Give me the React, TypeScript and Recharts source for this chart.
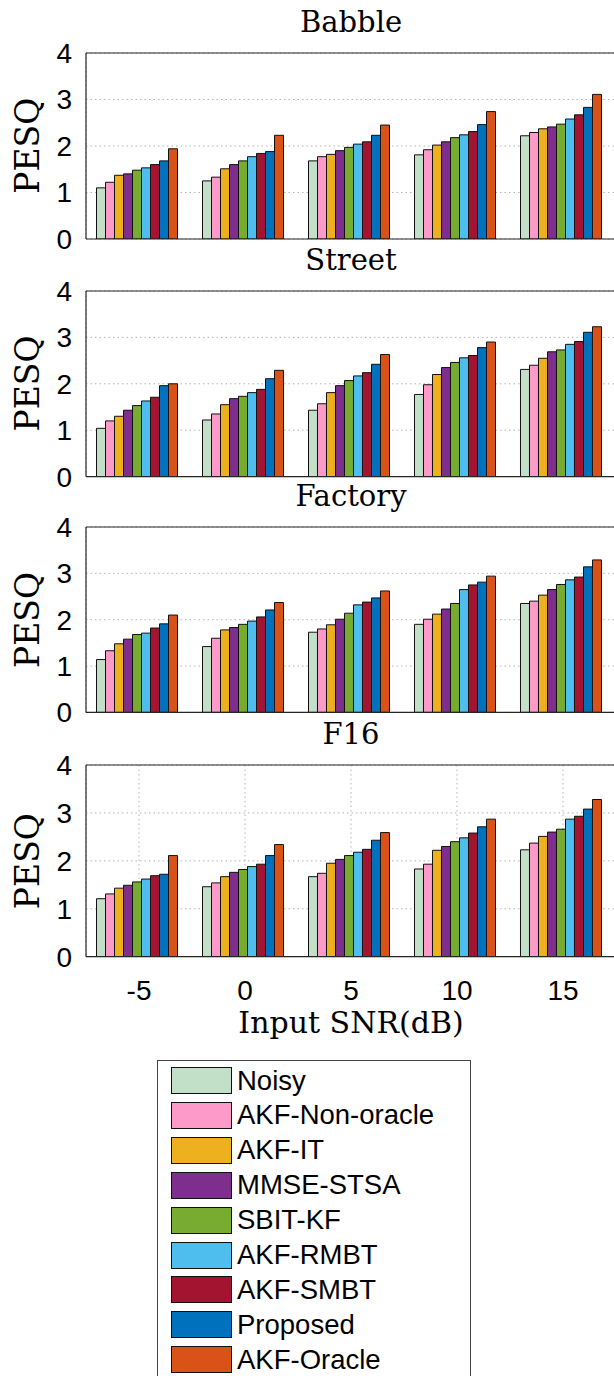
import React from 'react';
import { BarChart, Bar, XAxis, YAxis, CartesianGrid, ReferenceLine } from 'recharts';

const snrLabels = ['-5', '0', '5', '10', '15'];
const methods = ['Noisy', 'AKF-Non-oracle', 'AKF-IT', 'MMSE-STSA', 'SBIT-KF', 'AKF-RMBT', 'AKF-SMBT', 'Proposed', 'AKF-Oracle'];
const colors = ['#c2dfc8', '#fe9ac9', '#edb120', '#7e2f8e', '#77ac30', '#4dbeee', '#a2142f', '#0072bd', '#d95319'];
const yTicks = [0, 1, 2, 3, 4];

// rows: methods, columns: SNR -5,0,5,10,15
const babble = [
  [1.10, 1.25, 1.68, 1.81, 2.22],
  [1.22, 1.33, 1.77, 1.92, 2.29],
  [1.37, 1.51, 1.82, 2.02, 2.37],
  [1.40, 1.60, 1.90, 2.09, 2.41],
  [1.48, 1.68, 1.97, 2.18, 2.47],
  [1.53, 1.77, 2.04, 2.24, 2.58],
  [1.60, 1.84, 2.09, 2.31, 2.67],
  [1.68, 1.88, 2.23, 2.46, 2.83],
  [1.94, 2.23, 2.45, 2.74, 3.11],
];
const street = [
  [1.04, 1.22, 1.43, 1.77, 2.31],
  [1.20, 1.35, 1.57, 1.98, 2.40],
  [1.30, 1.55, 1.81, 2.20, 2.55],
  [1.43, 1.68, 1.96, 2.35, 2.69],
  [1.53, 1.73, 2.07, 2.46, 2.73],
  [1.63, 1.81, 2.17, 2.56, 2.85],
  [1.71, 1.88, 2.24, 2.61, 2.91],
  [1.96, 2.11, 2.42, 2.78, 3.11],
  [2.00, 2.29, 2.63, 2.90, 3.23],
];
const factory = [
  [1.14, 1.42, 1.73, 1.90, 2.35],
  [1.33, 1.60, 1.80, 2.01, 2.40],
  [1.48, 1.78, 1.89, 2.12, 2.53],
  [1.58, 1.83, 2.01, 2.23, 2.65],
  [1.68, 1.90, 2.14, 2.35, 2.76],
  [1.71, 1.97, 2.32, 2.65, 2.86],
  [1.82, 2.06, 2.38, 2.75, 2.92],
  [1.91, 2.21, 2.47, 2.81, 3.14],
  [2.10, 2.37, 2.62, 2.94, 3.29],
];
const f16 = [
  [1.21, 1.46, 1.67, 1.83, 2.23],
  [1.31, 1.54, 1.74, 1.93, 2.37],
  [1.43, 1.67, 1.95, 2.22, 2.51],
  [1.49, 1.76, 2.03, 2.30, 2.60],
  [1.56, 1.82, 2.11, 2.40, 2.66],
  [1.62, 1.88, 2.18, 2.48, 2.87],
  [1.69, 1.93, 2.24, 2.58, 2.93],
  [1.72, 2.11, 2.43, 2.71, 3.08],
  [2.11, 2.34, 2.59, 2.87, 3.28],
];

const panels = [
  { title: 'Babble', values: babble, top: 52.7, height: 186, showX: false },
  { title: 'Street', values: street, top: 290.7, height: 185.6, showX: false },
  { title: 'Factory', values: factory, top: 527.3, height: 185.4, showX: false },
  { title: 'F16', values: f16, top: 765.3, height: 191.7, showX: true },
];

const sans = '"Liberation Sans", Arial, Helvetica, sans-serif';
const serif = '"DejaVu Serif", serif';
const axisColor = '#262626';

function buildRows(values: number[][]) {
  return snrLabels.map((s, j) => {
    const row: Record<string, string | number> = { snr: s };
    methods.forEach((m, i) => {
      row[m] = values[i][j];
    });
    return row;
  });
}

const MARGIN_TOP = 22;
const X_H_SMALL = 1;
const X_H_BIG = 70;

function Panel({ p }: { p: (typeof panels)[number] }) {
  const xH = p.showX ? X_H_BIG : X_H_SMALL;
  const h = MARGIN_TOP + p.height + xH + 20;
  return (
    <div style={{ position: 'absolute', left: 0, top: p.top - MARGIN_TOP }}>
      <BarChart
        width={620}
        height={h}
        data={buildRows(p.values)}
        margin={{ top: MARGIN_TOP, right: 4, left: 0, bottom: 20 }}
        barCategoryGap={10.5}
        barGap={0}
      >
        <CartesianGrid stroke="#b5b5b5" strokeDasharray="1.5 3" strokeWidth={1} />
        <XAxis
          dataKey="snr"
          height={xH}
          tick={p.showX ? { fontSize: 28, fill: '#000', fontFamily: sans } : false}
          tickLine={false}
          tickSize={0}
          tickMargin={23}
          axisLine={{ stroke: axisColor, strokeWidth: 1.2 }}
          interval={0}
        />
        <YAxis
          width={86}
          domain={[0, 4]}
          ticks={yTicks}
          interval={0}
          allowDataOverflow
          tick={{ fontSize: 28, fill: '#000', fontFamily: sans }}
          tickLine={false}
          tickSize={0}
          tickMargin={14}
          axisLine={{ stroke: axisColor, strokeWidth: 1.2 }}
        />
        <ReferenceLine y={4} stroke={axisColor} strokeWidth={1.2} />
        {methods.map((m, i) => (
          <Bar
            key={m}
            dataKey={m}
            fill={colors[i]}
            stroke="#111"
            strokeWidth={1}
            isAnimationActive={false}
          />
        ))}
      </BarChart>
    </div>
  );
}

function Legend() {
  return (
    <div
      style={{
        position: 'absolute',
        left: 157,
        top: 1060,
        width: 314,
        height: 340,
        border: '1px solid #444',
        background: '#fff',
        boxSizing: 'border-box',
      }}
    >
      {methods.map((m, i) => (
        <div
          key={m}
          style={{
            position: 'absolute',
            left: 13,
            top: 6 + i * 34.9,
            height: 27,
            display: 'flex',
            alignItems: 'center',
            whiteSpace: 'nowrap',
          }}
        >
          <div
            style={{
              width: 61,
              height: 27,
              background: colors[i],
              border: '1px solid #111',
              boxSizing: 'border-box',
            }}
          />
          <span style={{ marginLeft: 5, fontFamily: sans, fontSize: 27.5, color: '#000', lineHeight: '26px' }}>{m}</span>
        </div>
      ))}
    </div>
  );
}

export default function App() {
  return (
    <div
      style={{
        position: 'absolute',
        left: 0,
        top: 0,
        width: 614,
        height: 1376,
        overflow: 'hidden',
        background: '#fff',
      }}
    >
      {panels.map((p) => (
        <Panel key={p.title} p={p} />
      ))}
      <svg width={614} height={1376} style={{ position: 'absolute', left: 0, top: 0, pointerEvents: 'none' }}>
        {panels.map((p) => (
          <text
            key={'t' + p.title}
            x={351}
            y={p.top - 21}
            textAnchor="middle"
            fontFamily={serif}
            fontSize={29}
            fill="#000"
          >
            {p.title}
          </text>
        ))}
        {panels.map((p) => (
          <text
            key={'y' + p.title}
            x={0}
            y={0}
            transform={`translate(39, ${p.top + p.height / 2}) rotate(-90)`}
            textAnchor="middle"
            fontFamily={serif}
            fontSize={33}
            fill="#000"
          >
            PESQ
          </text>
        ))}
        <text x={351} y={1033} textAnchor="middle" fontFamily={serif} fontSize={30} fill="#000">
          Input SNR(dB)
        </text>
      </svg>
      <Legend />
    </div>
  );
}
